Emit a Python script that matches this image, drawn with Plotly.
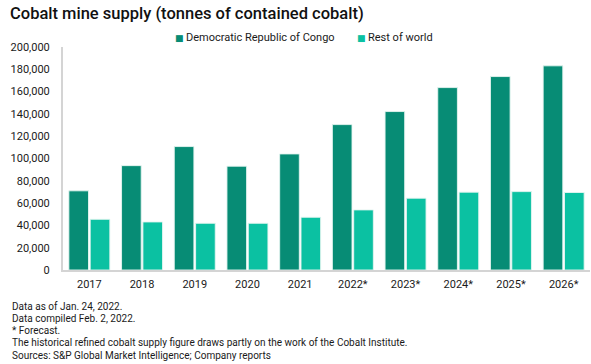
import plotly.graph_objects as go

years = ["2017", "2018", "2019", "2020", "2021", "2022*", "2023*", "2024*", "2025*", "2026*"]
drc = [71000, 93600, 110700, 93100, 104100, 130400, 142100, 163600, 173500, 183100]
rest_of_world = [45500, 43100, 41900, 41900, 47300, 53900, 64400, 69800, 70300, 69500]
series_names = ["Democratic Republic of Congo", "Rest of world"]
series_colors = ["#078C75", "#0BC1A2"]
y_ticks = [0, 20000, 40000, 60000, 80000, 100000, 120000, 140000, 160000, 180000, 200000]

footnotes = [
    "Data as of Jan. 24, 2022.",
    "Data compiled Feb. 2, 2022.",
    "* Forecast.",
    "The historical refined cobalt supply figure draws partly on the work of the Cobalt Institute.",
    "Sources: S&P Global Market Intelligence; Company reports",
]

W, H = 591, 364
ML, MR, MT, MB = 63, 1, 47, 94
PW, PH = W - ML - MR, H - MT - MB
FONT = "Roboto"


def px_x(x):
    return (x - ML) / PW


def px_y(y):
    return (H - MB - y) / PH


fig = go.Figure()
for name, vals, col in zip(series_names, [drc, rest_of_world], series_colors):
    fig.add_trace(go.Bar(
        x=years, y=vals, name=name,
        marker=dict(color=col, line=dict(color="rgba(230,245,241,0.9)", width=1)),
        showlegend=False,
    ))

fig.update_layout(
    width=W, height=H,
    margin=dict(l=ML, r=MR, t=MT, b=MB, pad=0),
    paper_bgcolor="white", plot_bgcolor="white",
    barmode="group", bargap=0.19, bargroupgap=0.08,
    font=dict(family=FONT, size=11, color="#1a1a1a"),
    title=dict(
        text="Cobalt mine supply (tonnes of contained cobalt)",
        x=10 / W, xanchor="left", xref="container",
        y=1 - 13 / H, yanchor="middle", yref="container",
        font=dict(family=FONT, size=16.5, color="#111111", weight=500),
    ),
    xaxis=dict(
        showgrid=False, showline=True, linecolor="#d4d4d4", linewidth=2,
        ticks="", ticklabelstandoff=3, tickfont=dict(size=11, color="#1a1a1a"),
        automargin=False,
    ),
    yaxis=dict(
        range=[0, 200000], tickvals=y_ticks, tickformat=",",
        showgrid=False, zeroline=False, showline=True, linecolor="#d4d4d4", linewidth=2,
        ticks="", ticklabelstandoff=9, tickfont=dict(size=11, color="#1a1a1a"),
        automargin=False,
    ),
)

# Legend built from text annotations
leg_items = [(series_names[0], series_colors[0], 179, 184), (series_names[1], series_colors[1], 361, 366)]
for name, col, sx, tx in leg_items:
    fig.add_annotation(x=px_x(sx), y=px_y(37.5), xref="paper", yref="paper", text="■",
                       showarrow=False, xanchor="center", yanchor="middle",
                       font=dict(size=9, color=col, family="DejaVu Sans"))
    fig.add_annotation(x=px_x(tx), y=px_y(37.5), xref="paper", yref="paper", text=name,
                       showarrow=False, xanchor="left", yanchor="middle",
                       font=dict(size=11, color="#1a1a1a", family=FONT))

# Footnotes
for i, line in enumerate(footnotes):
    fig.add_annotation(x=px_x(10), y=px_y(306 + i * 12.3),
                       xref="paper", yref="paper", text=line, showarrow=False,
                       xanchor="left", yanchor="middle",
                       font=dict(size=10, color="#1a1a1a", family=FONT))

fig.write_html(
    "out.html",
    config={"displayModeBar": False},
    post_script="document.body.style.margin='0';document.body.style.overflow='hidden';",
)
